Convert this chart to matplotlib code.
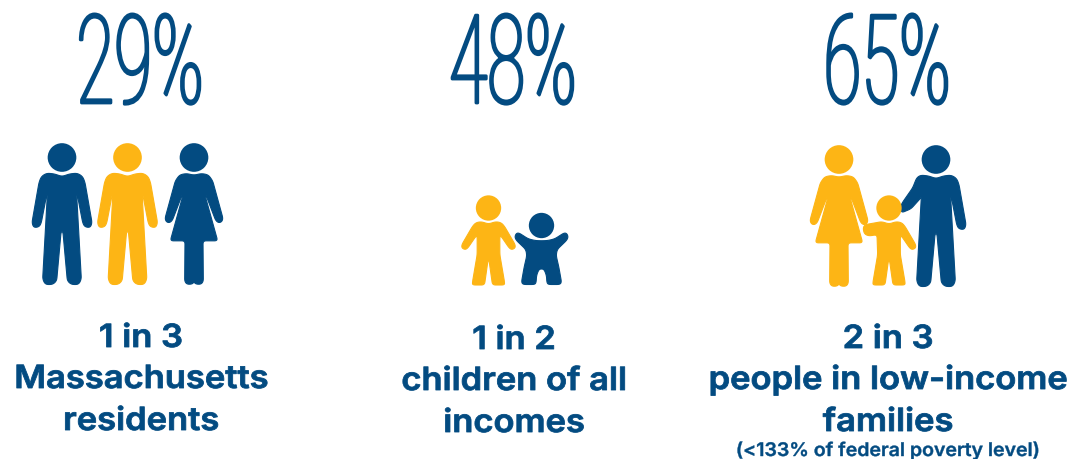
import matplotlib
matplotlib.use("Agg")
import matplotlib.pyplot as plt
import matplotlib.patheffects as pe
import numpy as np
from matplotlib.patches import Circle, Polygon
from matplotlib.transforms import Affine2D

NAVY = "#034B81"
GOLD = "#FDB515"

percentages = [29, 48, 65]
column_centres = [141, 514, 888]
headline_lines = [
    ["1 in 3", "Massachusetts", "residents"],
    ["1 in 2", "children of all", "incomes"],
    ["2 in 3", "people in low-income", "families"],
]
footnote = "(<133% of federal poverty level)"


class Squeeze(pe.AbstractPathEffect):
    """Scale glyphs horizontally about a fixed x, optionally thickening the outline."""

    def __init__(self, xc, factor, stroke=0.0):
        super().__init__()
        self.xc, self.factor, self.stroke = xc, factor, stroke

    def draw_path(self, renderer, gc, tpath, affine, rgbFace=None):
        t = affine + Affine2D().translate(-self.xc, 0).scale(self.factor, 1).translate(self.xc, 0)
        gc0 = renderer.new_gc()
        gc0.copy_properties(gc)
        gc0.set_linewidth(self.stroke)
        gc0.set_foreground(rgbFace)
        renderer.draw_path(gc0, tpath, t, rgbFace)
        gc0.restore()


# Half outlines of the pictograms, as offsets from the head centre (1 unit = 1/3 px).
MAN_R = [(0, 57), (24, 49), (46, 47), (62, 57), (69, 75), (90, 195), (86, 208), (77, 210), (67, 206),
         (62, 195), (46, 112), (44, 112), (58, 365), (50, 381), (28, 381), (16, 370), (3, 225), (0, 222)]
WOMAN_R = [(0, 53), (23, 48), (43, 52), (56, 70), (87, 183), (83, 193), (74, 196), (65, 189), (36, 113),
           (33, 113), (71, 250), (27, 250), (28, 372), (20, 381), (2, 379), (0, 368)]
CHILD_R = [(0, 48), (22, 41), (38, 44), (48, 55), (80, 110), (80, 120), (70, 125), (62, 120), (38, 85), (34, 85),
           (34, 140), (48, 222), (48, 231), (12, 231), (2, 160), (0, 155)]
BABY_R = [(0, 46), (20, 45), (40, 40), (68, 22), (76, 24), (80, 34), (76, 44), (47, 72), (44, 90), (52, 125),
          (60, 170), (55, 177), (20, 177), (16, 170), (15, 150), (8, 132), (0, 130)]
# Father's near arm reaches down towards the child.
FATHER_L = [(0, 57), (-24, 49), (-46, 47), (-58, 55), (-70, 85), (-100, 128), (-106, 140), (-104, 160), (-75, 148),
            (-48, 118), (-44, 112), (-58, 365), (-50, 381), (-28, 381), (-16, 370), (-3, 225), (0, 222)]
# Child's raised arm holds the mother's hand.
CHILD_HOLD_L = [(0, 48), (-22, 41), (-38, 44), (-72, 50), (-78, 60), (-74, 78), (-60, 84), (-36, 80),
                (-34, 140), (-48, 222), (-48, 231), (-12, 231), (-2, 160), (0, 155)]


def mirrored(half):
    return [(-x, y) for x, y in half]


def rounded(points, radius=9.0, steps=5):
    """Replace each polygon corner by a short quadratic curve."""
    pts = np.asarray(points, float)
    n = len(pts)
    out = []
    for i in range(n):
        prev_pt, p, next_pt = pts[i - 1], pts[i], pts[(i + 1) % n]
        d0, d1 = np.linalg.norm(prev_pt - p), np.linalg.norm(next_pt - p)
        a = p + (prev_pt - p) * min(radius, d0 / 2) / d0
        b = p + (next_pt - p) * min(radius, d1 / 2) / d1
        for t in np.linspace(0, 1, steps):
            out.append((1 - t) ** 2 * a + 2 * t * (1 - t) * p + t ** 2 * b)
    return np.array(out)


def figure_icon(ax, cx, cy, colour, right, left=None, head=43):
    left = mirrored(right) if left is None else left
    outline = rounded(right + left[::-1][1:-1]) / 3 + (cx, cy)
    ax.add_patch(Polygon(outline, closed=True, fc=colour, ec=colour, lw=0.8, joinstyle="round"))
    ax.add_patch(Circle((cx, cy), head / 3, fc=colour, ec="none"))


fig = plt.figure(figsize=(10.76, 4.6), dpi=100, facecolor="white")
ax = fig.add_axes([0, 0, 1, 1])
ax.set_xlim(0, 1076)
ax.set_ylim(460, 0)
ax.axis("off")

# Row of large percentages
for value, xc in zip(percentages, column_centres):
    x = xc - 1
    ax.text(x, 104, f"{value}%", ha="center", va="baseline", color=NAVY, fontsize=89,
            family="Roboto", weight="light", path_effects=[Squeeze(x, 0.56, 2.0)])

# First group: man, man in gold, woman
figure_icon(ax, 62, 158.5, NAVY, MAN_R)
figure_icon(ax, 127.5, 158.5, GOLD, MAN_R)
figure_icon(ax, 194, 158.5, NAVY, WOMAN_R)

# Second group: child and toddler
figure_icon(ax, 488.5, 209, GOLD, CHILD_R, head=38)
figure_icon(ax, 541.5, 226.5, NAVY, BABY_R, head=38)

# Third group: father behind, mother, child holding hands
figure_icon(ax, 936, 160.5, NAVY, MAN_R, left=FATHER_L)
figure_icon(ax, 839, 160.5, GOLD, WOMAN_R)
figure_icon(ax, 889, 209, GOLD, CHILD_R, left=CHILD_HOLD_L, head=38)

# Captions beneath each group
caption_baselines = [[348, 389, 431], [350, 391, 433], [349, 390, 432]]
for lines, xc, baselines in zip(headline_lines, column_centres, caption_baselines):
    for line, y in zip(lines, baselines):
        ax.text(xc, y, line, ha="center", va="baseline", color=NAVY, fontsize=23,
                family="Inter", weight="semibold", path_effects=[Squeeze(xc, 1.08, 0.6)])

ax.text(888, 457, footnote, ha="center", va="baseline", color=NAVY, fontsize=13.5,
        family="Inter", weight="semibold", path_effects=[Squeeze(888, 1.04, 0.3)])

fig.savefig("out.png", dpi=100, facecolor="white")
